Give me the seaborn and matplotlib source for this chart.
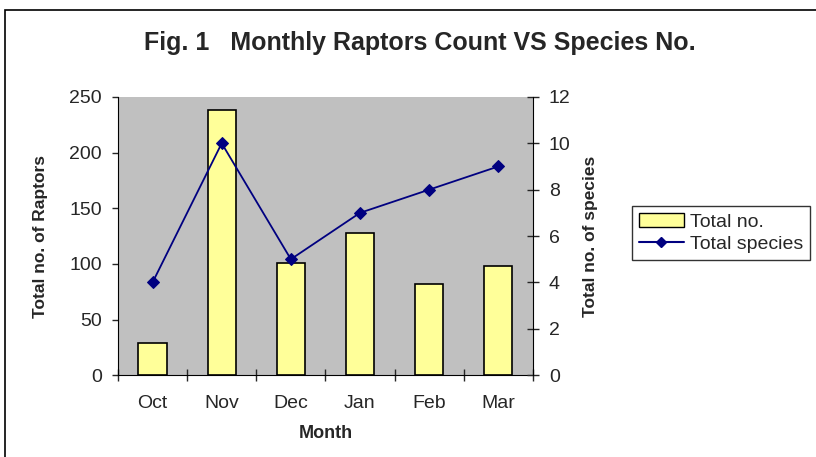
import numpy as np
import pandas as pd
import matplotlib
matplotlib.use("Agg")
import matplotlib.pyplot as plt
import seaborn as sns
from matplotlib.patches import Rectangle, Patch
from matplotlib.lines import Line2D

months = ["Oct", "Nov", "Dec", "Jan", "Feb", "Mar"]
total_no = [29, 238, 101, 128, 82, 98]
total_species = [4, 10, 5, 7, 8, 9]

df = pd.DataFrame({"Month": months, "Total no.": total_no, "Total species": total_species})

sns.set_style("white")
plt.rcParams["font.family"] = ["Liberation Sans", "DejaVu Sans"]

fig = plt.figure(figsize=(8.16, 4.57), dpi=100)
ax = fig.add_axes([0.1446, 0.179, 0.5084, 0.609])
ax.set_facecolor("#C0C0C0")

# bars: total raptors per month
sns.barplot(data=df, x="Month", y="Total no.", color="#FFFF99", edgecolor="black",
            linewidth=1.2, width=0.41, saturation=1, ax=ax)
ax.set_ylim(0, 250)
ax.set_xlim(-0.5, 5.5)
ax.set_yticks(range(0, 251, 50))
ax.set_xticks(np.arange(-0.5, 6, 1), minor=False)
ax.set_xticklabels([])
ax.set_xticks(range(6), minor=True)
ax.set_xticklabels(months, minor=True)
ax.tick_params(axis="x", which="major", direction="inout", length=8, width=1, bottom=True)
ax.tick_params(axis="x", which="minor", length=0, labelsize=14, pad=14)
ax.tick_params(axis="y", direction="out", length=4.5, width=1, labelsize=14, left=True, pad=7)
ax.set_xlabel("Month", fontsize=13, fontweight="bold")
ax.xaxis.set_label_coords(0.5, -0.18)
ax.set_ylabel("Total no. of Raptors", fontsize=12.5, fontweight="bold")
ax.yaxis.set_label_coords(-0.169, 0.5)
for s in ax.spines.values():
    s.set_visible(False)
ax.spines["left"].set_visible(True)
ax.spines["bottom"].set_visible(True)
ax.spines["left"].set_color("black")
ax.spines["bottom"].set_color("black")

# line: number of species per month
ax2 = ax.twinx()
sns.lineplot(data=df, x=np.arange(6), y="Total species", color="#000080", marker="D",
             markersize=6, markeredgecolor="#000080", linewidth=1.3, ax=ax2, legend=False)
ax2.set_ylim(0, 12)
ax2.set_xlim(-0.5, 5.5)
ax2.set_yticks(range(0, 13, 2))
ax2.tick_params(axis="y", direction="inout", length=9, width=1, labelsize=14, right=True, pad=7)
ax2.set_ylabel("Total no. of species", fontsize=12.5, fontweight="bold")
ax2.yaxis.set_label_coords(1.12, 0.5)
for s in ax2.spines.values():
    s.set_visible(False)
ax2.spines["right"].set_visible(True)
ax2.spines["right"].set_color("black")

fig.text(0.515, 0.905, "Fig. 1   Monthly Raptors Count VS Species No.", ha="center", va="center",
         fontsize=18, fontweight="bold")

handles = [Patch(facecolor="#FFFF99", edgecolor="black", label="Total no."),
           Line2D([0], [0], color="#000080", marker="D", markersize=5, label="Total species")]
leg = fig.legend(handles=handles, loc="center left", bbox_to_anchor=(0.763, 0.49),
                 frameon=True, fancybox=False, fontsize=14, handlelength=2.3,
                 borderpad=0.35, labelspacing=0.25, handletextpad=0.3)
leg.get_frame().set_edgecolor("black")
leg.get_frame().set_linewidth(1)

fig.patches.append(Rectangle((0.006, -0.1), 1.2, 1.078, transform=fig.transFigure,
                             fill=False, edgecolor="black", linewidth=1.2))

fig.savefig("out.png", dpi=100)
